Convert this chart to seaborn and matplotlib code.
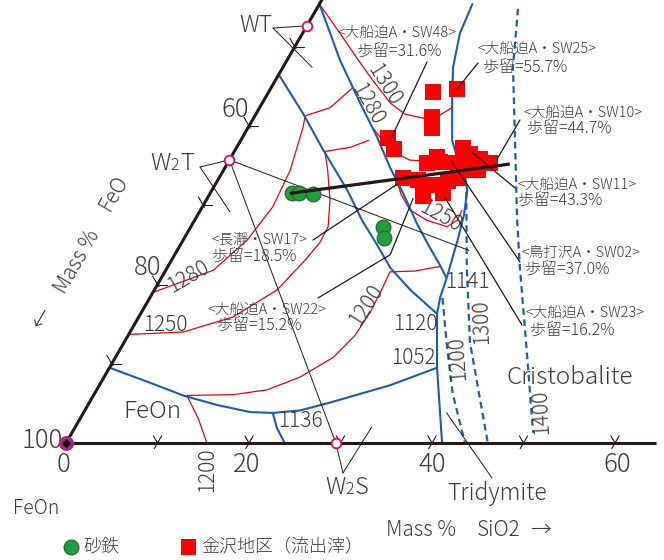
import numpy as np
import matplotlib
matplotlib.use('Agg')
import matplotlib.pyplot as plt
import seaborn as sns

sns.set_style('white')
plt.rcParams['font.family'] = ['Noto Sans CJK JP', 'DejaVu Sans']
plt.rcParams['font.weight'] = 'light'

W, H = 664, 560
K = 9.15  # px per mass %
TXT = '#3e3a39'
INK = '#231815'
BLUE = '#1d5ca8'
RED = '#e60012'
MAG = '#e4007f'

# ---- データ (mass %: SiO2, FeO ; TiO2 = 残り) ----
kanazawa_sio2 = [18.0, 20.4, 19.4, 20.1, 15.9, 17.3, 21.8, 22.5, 24.8, 25.9, 27.3, 28.7,
                 24.8, 26.9, 26.1, 20.1, 21.9, 23.7, 23.4, 25.4, 25.2, 27.8, 23.1]
kanazawa_feo = [37.7, 34.9, 39.4, 40.1, 45.6, 45.6, 42.9, 41.4, 38.0, 37.6, 36.8, 36.0,
                39.8, 38.6, 40.4, 46.5, 44.9, 43.7, 45.4, 43.0, 41.7, 37.8, 41.4]
satetsu_sio2 = [8.9, 9.7, 11.3, 21.0, 21.8]
satetsu_feo = [59.5, 58.8, 57.3, 51.7, 52.3]

phase_names = ['WT', 'W2T', 'W2S']
phase_sio2 = [0.0, 0.0, 29.49]
phase_feo = [47.35, 64.27, 70.51]

# 境界線 (青)
bnd_a = [(0, 53.5), (5.1, 53.3), (9.6, 53.4), (14.8, 53.3), (18.3, 53.6), (21.3, 53.5),
         (24.4, 53.5), (28.0, 52.7), (32.4, 51.3)]
bnd_b = [(0, 44.6), (5.8, 45.9), (10.7, 46.4), (14.7, 46.7), (18.0, 47.2), (21.1, 47.4),
         (24.5, 47.8), (27.1, 47.9), (29.6, 47.9), (31.2, 48.0)]
bnd_c = [(16.7, 27.8), (17.2, 31.1), (18.6, 34.0), (20.6, 36.2), (23.1, 38.7), (24.3, 39.1),
         (25.7, 38.9), (27.9, 40.2), (29.1, 42.1), (30.0, 44.4), (31.2, 48.0)]
bnd_v = [(31.2, 48.0), (31.7, 49.9), (32.4, 51.3), (35.8, 54.7), (41.1, 58.9)]
bnd_1052 = [(35.8, 54.7), (31.8, 60.9), (26.3, 68.6)]
bnd_feon = [(0, 90.5), (5.4, 87.0), (9.8, 84.2), (14.1, 81.1), (18.2, 77.9), (20.7, 75.5),
            (23.5, 72.4), (26.3, 68.6)]
bnd_1136 = [(20.7, 75.5), (22.1, 76.0), (23.9, 76.1)]
# 破線 (トリディマイト / クリストバライト)
dash_1300 = [(27.9, 40.4), (32.7, 45.1), (37.8, 49.5), (42.5, 52.0), (46.1, 53.9)]
dash_1200 = [(32.0, 49.7), (35.3, 52.1), (39.1, 54.6), (43.6, 56.4)]
dash_1400 = [(22.0, 23.2), (25.1, 27.4), (29.5, 31.4), (35.2, 36.6), (38.5, 39.3),
             (44.5, 43.8), (50.4, 48.3)]

# 等温線 (赤)
iso_1300 = [(0, 44.6), (4.1, 44.2), (7.7, 43.9), (10.6, 43.6), (14.0, 43.1), (16.3, 42.2),
            (18.5, 40.5), (20.2, 38.4), (21.1, 36.5)]
iso_1280_fa = [(13.5, 46.6), (16.9, 46.1), (19.7, 44.6), (22.8, 41.7), (24.5, 39.5)]
iso_1250_fa = [(19.5, 47.3), (21.0, 47.7), (22.9, 47.7), (25.4, 46.5), (28.0, 44.7),
               (28.7, 43.2), (28.6, 42.0)]
iso_1280_top = [(5.5, 53.2), (7.7, 50.0), (8.9, 46.3)]
iso_1280 = [(5.5, 53.2), (6.0, 54.2), (7.3, 58.3), (7.7, 62.5), (7.0, 67.4), (5.2, 73.0), (0, 81.0)]
iso_1250_top = [(9.9, 53.3), (12.4, 50.3), (14.0, 47.8)]
iso_1250 = [(9.9, 53.3), (11.4, 54.2), (13.5, 55.8), (15.0, 57.7), (15.1, 59.6), (14.6, 62.3),
            (13.4, 67.3), (10.3, 73.8), (5.8, 80.2), (0, 86.3)]
iso_1200 = [(10.2, 83.8), (15.2, 78.7), (18.6, 74.7), (21.4, 70.3), (23.8, 65.4), (24.8, 61.6),
            (25.0, 58.5), (24.8, 55.5), (24.6, 53.8), (27.3, 51.0), (29.8, 47.9)]
iso_1200_low = [(10.2, 83.8), (12.9, 84.0), (15.4, 84.6)]

# 回帰線 / 結線
trend_line = [(8.7, 59.8), (30.9, 33.9)]
tie_w2t_sio2 = [(0, 64.27), (31.9, 43.8)]
tie_w2t_w2s = [(0, 64.27), (29.49, 70.51)]

sio2_ticks = [10, 20, 30, 40, 50, 60]
feo_ticks = [90, 80, 70, 60, 50]

note_names = ['<大船迫A・SW48>', '<大船迫A・SW25>', '<大船迫A・SW10>', '<大船迫A・SW11>',
              '<鳥打沢A・SW02>', '<大船迫A・SW23>', '<長瀞・SW17>', '<大船迫A・SW22>']
note_yields = ['歩留=31.6%', '歩留=55.7%', '歩留=44.7%', '歩留=43.3%',
               '歩留=37.0%', '歩留=16.2%', '歩留=18.5%', '歩留=15.2%']
note_target = [(16.3, 45.1), (20.4, 34.9), (29.2, 35.1), (26.0, 37.3),
               (24.5, 40.1), (25.9, 43.1), (19.9, 47.4), (23.55, 52.7)]
sw22_tail = [(23.55, 52.7), (22.5, 46.6)]


def tern(sio2, feo):
    s = np.asarray(sio2, float)
    f = np.asarray(feo, float)
    t = 100 - s - f
    return s + t / 2, t * np.sqrt(3) / 2


def frac(px, py):
    return px / W, 1 - py / H


fig = plt.figure(figsize=(W / 100, H / 100), dpi=100)
ax = fig.add_axes([0, 0, 1, 1])
ax.set_xlim(-66 / K, (W - 66) / K)
ax.set_ylim(-(H - 443) / K, 443 / K)
ax.axis('off')


def curve(pts, **kw):
    s, f = zip(*pts)
    x, y = tern(s, f)
    ax.plot(x, y, solid_capstyle='butt', **kw)


def put(px, py, s, size, ha='center', va='center', rot=0, **kw):
    x, y = frac(px, py)
    ax.text(x, y, s, transform=ax.transAxes, fontsize=size, color=TXT, ha=ha, va=va,
            rotation=rot, rotation_mode='anchor', **kw)


def leader(px, py, comp, lw=0.9):
    ax.annotate('', xy=tern(*comp), xytext=frac(px, py), textcoords='axes fraction',
                arrowprops=dict(arrowstyle='-', color=INK, lw=lw, shrinkA=0, shrinkB=0),
                zorder=5)


def formula(px, py, a, b, size):
    # "W" + 小さい "2" + 末尾の文字 (ベースライン揃え)
    put(px, py, 'W', size, ha='left', va='baseline')
    put(px + 20, py, '2', size * 0.68, ha='left', va='baseline')
    put(px + 30, py, b, size, ha='left', va='baseline')


# 等温線
for c in [iso_1300, iso_1280_fa, iso_1250_fa, iso_1280_top, iso_1280, iso_1250_top,
          iso_1250, iso_1200, iso_1200_low]:
    curve(c, color=RED, lw=0.9, zorder=2)

# 境界線
for c in [bnd_a, bnd_b, bnd_c, bnd_v, bnd_1052, bnd_feon, bnd_1136]:
    curve(c, color=BLUE, lw=1.5, zorder=3)
for c in [dash_1300, dash_1200, dash_1400]:
    curve(c, color=BLUE, lw=1.6, ls=(0, (3.0, 2.0)), zorder=3)

# 結線
curve(tie_w2t_sio2, color=INK, lw=0.7, zorder=3)
curve(tie_w2t_w2s, color=INK, lw=0.7, zorder=3)

# 三角形の辺
curve([(0, 100), (0, 43)], color=INK, lw=2.2, zorder=4)
curve([(0, 100), (64.5, 35.5)], color=INK, lw=2.2, zorder=4)

# 目盛り
L = 0.9
u60 = np.array([np.cos(np.pi / 3), np.sin(np.pi / 3)])
u120 = np.array([np.cos(2 * np.pi / 3), np.sin(2 * np.pi / 3)])
for v in sio2_ticks:
    p = np.array(tern(v, 100 - v))
    a, b = p - 0.8 * L * u60, p + L * u60
    ax.plot([a[0], b[0]], [a[1], b[1]], color=INK, lw=0.8, zorder=4)
    c = p + L * u120
    ax.plot([p[0], c[0]], [p[1], c[1]], color=INK, lw=0.8, zorder=4)
for v in feo_ticks:
    p = np.array(tern(0, v))
    ax.plot([p[0], p[0] + L * 1.1], [p[1], p[1]], color=INK, lw=0.8, zorder=4)
    a, b = p - 0.3 * L * u120, p + 1.2 * L * u120
    ax.plot([a[0], b[0]], [a[1], b[1]], color=INK, lw=0.8, zorder=4)

# データ点
kx, ky = tern(kanazawa_sio2, kanazawa_feo)
sx, sy = tern(satetsu_sio2, satetsu_feo)
sns.scatterplot(x=kx, y=ky, marker='s', s=132, color='#ff0000', edgecolor='none',
                linewidth=0, ax=ax, zorder=5, label='金沢地区（流出滓）')
sns.scatterplot(x=sx, y=sy, marker='o', s=110, color='#1fa03c', edgecolor='#2d6a31',
                linewidth=1.0, ax=ax, zorder=5, label='砂鉄')

# 回帰線
curve(trend_line, color=INK, lw=2.3, zorder=6)

# 鉱物組成点
px_, py_ = tern(phase_sio2, phase_feo)
ax.scatter(px_, py_, s=48, facecolor='white', edgecolor=MAG, linewidth=1.3, zorder=7)
cx, cy = tern(0, 100)
ax.scatter([cx], [cy], s=95, color='#b1208c', zorder=7)
ax.scatter([cx], [cy], s=14, marker='D', color='black', zorder=8)

# 注記
note_line1 = [(338, 33), (478, 49), (523, 113), (517, 185), (522, 253), (525, 313), (212, 240), (207, 310)]
note_line2 = [(357, 52), (483, 68), (527, 129), (518, 201), (525, 270), (530, 331), (212, 257), (217, 326)]
note_start = [(427, 62), (478, 63), (520, 120), (515, 188), (520, 262), (522, 325), (313, 240), (318, 298)]
for name, yld, p1, p2, st, tg in zip(note_names, note_yields, note_line1, note_line2, note_start, note_target):
    put(p1[0], p1[1], name, 10.5, ha='left')
    put(p2[0], p2[1], yld, 11.5, ha='left')
    leader(st[0], st[1], tg)
curve(sw22_tail, color=INK, lw=0.9, zorder=5)

# 相の名前
put(256, 25, 'WT', 16.5)
leader(273, 28, (phase_sio2[0], phase_feo[0]), lw=0.7)
leader(273, 28, (3.2, 49.4), lw=0.7)
formula(150, 170, 'W', 'T', 17)
leader(200, 167, (phase_sio2[1], phase_feo[1]), lw=0.7)
leader(200, 167, (3.3, 67.5), lw=0.7)
formula(325, 494, 'W', 'S', 17)
leader(343, 473, (phase_sio2[2], phase_feo[2]), lw=0.7)
leader(343, 473, (32.4, 65.6), lw=0.7)
put(497, 494, 'Tridymite', 16.5)
leader(492, 478, (39.7, 56.5), lw=0.7)
put(570, 378, 'Cristobalite', 17.5)
put(152, 412, 'FeOn', 17.5)
put(36, 508, 'FeOn', 14)

# 温度
iso_labels = [('1300', 384, 85, -58), ('1280', 367, 104, -60), ('1280', 188, 277, 30),
              ('1250', 165, 325, 0), ('1250', 440, 217, -29), ('1200', 366, 305, 57),
              ('1200', 207, 470, 90), ('1136', 300, 421, 0), ('1141', 467, 282, 0),
              ('1120', 415, 324, 0), ('1052', 413, 358, 0), ('1200', 458, 358, 94),
              ('1300', 481, 322, 92), ('1400', 541, 412, 93)]
for s, x, y, r in iso_labels:
    put(x, y, s, 15, rot=r)

# 軸ラベル
put(235, 110, '60', 18.5)
put(148, 268, '80', 18.5)
put(63, 441, '100', 18.5, ha='right')
put(63, 465, '0', 18.5)
put(247, 465, '20', 18.5)
put(432, 465, '40', 18.5)
put(617, 465, '60', 18.5)
put(77, 262, 'Mass %', 15, rot=60)
put(114, 193, 'FeO', 15, rot=60)
put(42, 318, '←', 15, rot=60)
put(421, 530, 'Mass %', 15)
put(499, 530, 'SiO2', 15)
put(541, 530, '→', 15)

h, lab = ax.get_legend_handles_labels()
ax.legend(h[::-1], lab[::-1], loc='center left', bbox_to_anchor=frac(55, 547), ncol=2,
          frameon=False, fontsize=13, handletextpad=0.2, columnspacing=3.3,
          borderaxespad=0, handlelength=1.0, labelcolor=TXT)

fig.savefig('out.png', dpi=100)
